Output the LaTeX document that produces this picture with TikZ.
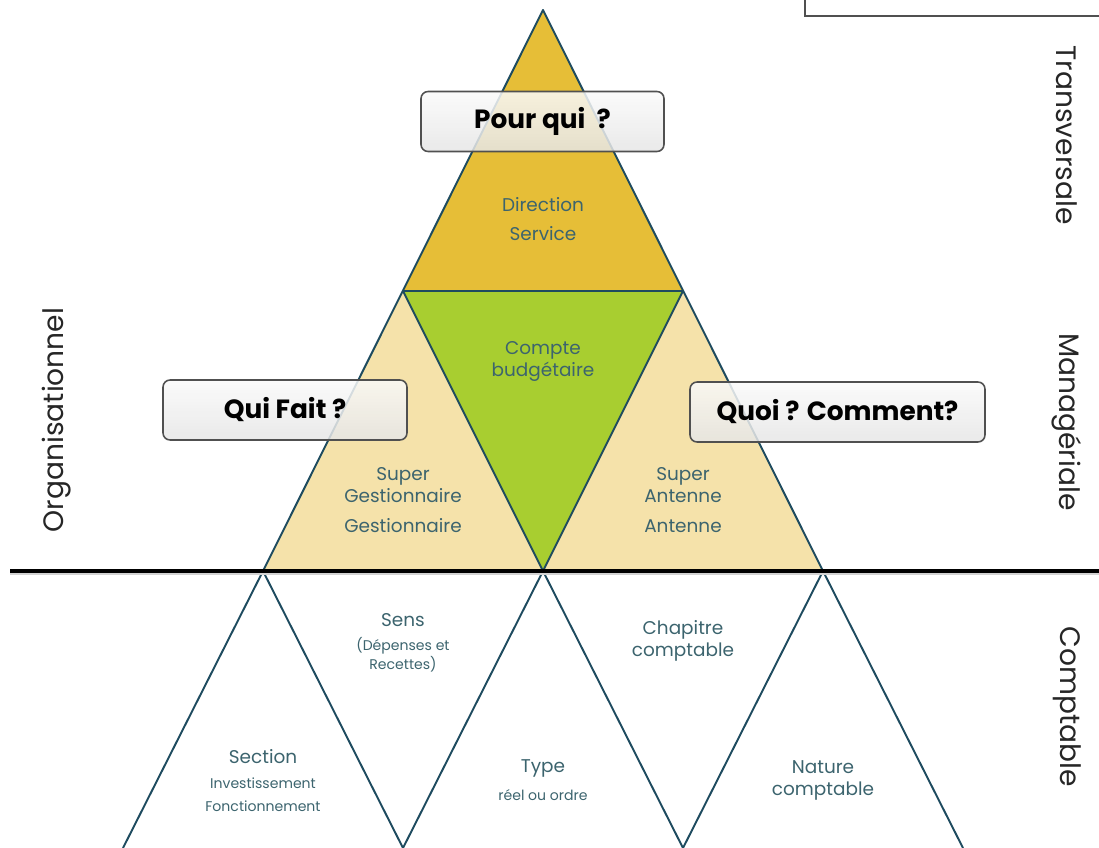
\documentclass[tikz,border=0pt]{standalone}
\usepackage{fontspec}
\setmainfont{Poppins}
\usepackage{tikz}
\usetikzlibrary{calc, positioning}

\definecolor{topgold}{RGB}{230,190,55}
\definecolor{midgreen}{RGB}{168,206,48}
\definecolor{sidebeige}{RGB}{245,226,170}
\definecolor{edgeblue}{RGB}{30,75,95}
\definecolor{labelteal}{RGB}{60,100,110}
\definecolor{boxgrey}{RGB}{80,80,80}

\begin{document}
\begin{tikzpicture}[x=0.02cm, y=-0.02cm,
    edge/.style={draw=edgeblue, line width=1.1pt, line join=round},
    lbl/.style={text=labelteal, align=center, font=\fontsize{10.5}{12.5}\selectfont},
    detail/.style={text=labelteal, align=center, font=\fontsize{8}{9}\selectfont},
    question/.style={draw=boxgrey, line width=0.9pt, rounded corners=4pt,
        top color=gray!4, bottom color=gray!20, fill opacity=0.85, text opacity=1,
        minimum height=1.2cm, font=\bfseries\fontsize{15}{18}\selectfont},
    side/.style={text=black!85, font=\fontsize{16}{20}\selectfont}]

            \useasboundingbox (0,0) rectangle (1099,848);

            % Corners of the big triangle and of the lower row
            \coordinate (apex) at (543,10);
            \coordinate (ml) at (403,291);
            \coordinate (mr) at (683,291);
            \coordinate (bl) at (263,571);
            \coordinate (bc) at (543,571);
            \coordinate (br) at (823,571);
            \coordinate (d1) at (123,848);
            \coordinate (d2) at (403,848);
            \coordinate (d3) at (683,848);
            \coordinate (d4) at (963,848);

            % Fill the four parts of the big triangle
            \fill[topgold] (apex) -- (ml) -- (mr) -- cycle;
            \fill[sidebeige] (ml) -- (bl) -- (bc) -- cycle;
            \fill[sidebeige] (mr) -- (bc) -- (br) -- cycle;
            \fill[midgreen] (ml) -- (mr) -- (bc) -- cycle;

            % Edges of the big triangle
            \draw[edge] (apex) -- (bl) -- (br) -- cycle;
            \draw[edge] (ml) -- (mr) -- (bc) -- cycle;

            % Zigzag of the lower row
            \draw[edge] (d1) -- (bl) -- (d2) -- (bc) -- (d3) -- (br) -- (d4);

            % Separation line
            \draw[gray!35, line width=1.2pt] (10,573.5) -- (1099,573.5);
            \draw[black, line width=1.8pt] (10,571) -- (1099,571);

            % Box in the top right corner
            \draw[boxgrey, line width=0.8pt] (805,-10) rectangle (1110,16);

            % Labels of the big triangle
            \node[lbl, font=\fontsize{10.5}{16.5}\selectfont] (dir) at (543,219) {Direction\\Service};
            \node[lbl] (compte) at (543,361) {Compte\\budg\'etaire};
            \node[lbl] (gest) at (403,500) {Super\\Gestionnaire\\[5pt]Gestionnaire};
            \node[lbl] (ant) at (683,500) {Super\\Antenne\\[5pt]Antenne};

            % Labels of the lower row
            \node[lbl] (sens) at (403,620) {Sens};
            \node[detail] (sensdet) at (403,655) {(D\'epenses et\\Recettes)};
            \node[lbl] (chap) at (683,641) {Chapitre\\comptable};
            \node[lbl] (section) at (263,757) {Section};
            \node[detail, font=\fontsize{8}{13}\selectfont] (sectdet) at (263,795) {Investissement\\Fonctionnement};
            \node[lbl] (type) at (543,768) {Type};
            \node[detail] (typedet) at (543,795) {r\'eel ou ordre};
            \node[lbl] (nature) at (823,780) {Nature\\comptable};

            % Question boxes
            \node[question, minimum width=4.86cm] (pourqui) at (542.5,121.5) {Pour qui~ ?};
            \node[question, minimum width=4.88cm] (quifait) at (285,410) {Qui Fait ?};
            \node[question, minimum width=5.9cm] (quoi) at (837.5,412) {Quoi ? Comment?};

            % Side titles
            \node[side, rotate=-90] (transv) at (1067,135) {Transversale};
            \node[side, rotate=-90] (manag) at (1067,422) {Manag\'eriale};
            \node[side, rotate=-90] (compta) at (1067,707) {Comptable};
            \node[side, rotate=90] (orga) at (57,420) {Organisationnel};

        \end{tikzpicture}
\end{document}
